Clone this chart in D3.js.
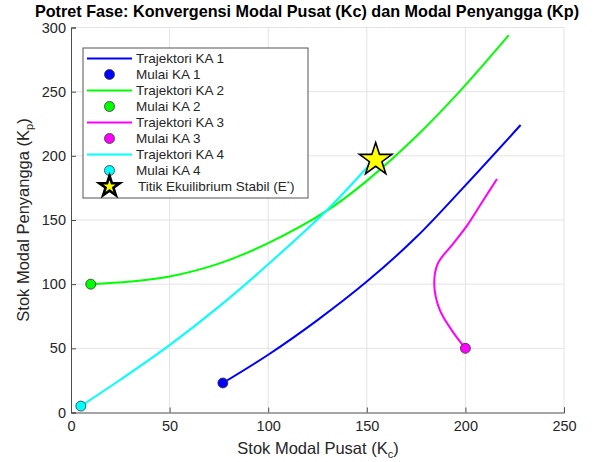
<!DOCTYPE html>
<html lang="en">
<head>
<meta charset="utf-8">
<script src="https://d3js.org/d3.v7.min.js"></script>
<style>
  body { margin: 0; background: #fff; }
  svg text { font-family: "Liberation Sans", Arial, sans-serif; fill: #262626; }
</style>
</head>
<body>
<svg width="614" height="462"></svg>
<script>

// trajectories (Kc, Kp)
var ka1X = [77, 100, 125, 150, 175, 200, 228];
var ka1Y = [23, 45, 72, 102, 136.5, 177, 224];

var ka2X = [10, 30, 50, 75, 100, 130, 150, 175, 197, 222];
var ka2Y = [100, 102, 106, 116, 132, 157.5, 180.5, 215, 250, 294];

var ka3X = [200, 194, 187, 184.2, 186, 193.5, 201, 208.5, 216];
var ka3Y = [50, 62, 80, 100, 116, 131, 146, 164, 182];

var ka4X = [5, 25, 50, 75, 100, 130, 151];
var ka4Y = [5, 25.5, 52.5, 82.5, 115.5, 158, 192.5];

var eqPoint = [154.5, 197];

var xTicks = [0, 50, 100, 150, 200, 250];
var yTicks = [0, 50, 100, 150, 200, 250, 300];

var seriesNames = ["KA 1", "KA 2", "KA 3", "KA 4"];
var seriesColors = ["#0000ff", "#00ff00", "#ff00ff", "#00ffff"];

var svg = d3.select("svg");

var x = d3.scaleLinear().domain([0, 250]).range([71, 564]);
var y = d3.scaleLinear().domain([0, 300]).range([412.5, 27.5]);

var series = [
    { x: ka1X, y: ka1Y },
    { x: ka2X, y: ka2Y },
    { x: ka3X, y: ka3Y },
    { x: ka4X, y: ka4Y }
].map(function(s, i) {
    return {
        name: seriesNames[i],
        color: seriesColors[i],
        pts: s.x.map(function(v, j) { return [v, s.y[j]]; })
    };
});

// grid
svg.append("g").selectAll("line").data(xTicks.slice(1)).enter().append("line")
    .attr("x1", function(d) { return x(d); }).attr("x2", function(d) { return x(d); })
    .attr("y1", y(0)).attr("y2", y(300))
    .attr("stroke", "#e3e3e3").attr("stroke-width", 1);
svg.append("g").selectAll("line").data(yTicks.slice(1)).enter().append("line")
    .attr("y1", function(d) { return y(d); }).attr("y2", function(d) { return y(d); })
    .attr("x1", x(0)).attr("x2", x(250))
    .attr("stroke", "#e3e3e3").attr("stroke-width", 1);

// axes, ticks pointing inward like matlab
var xAxis = svg.append("g").attr("transform", "translate(0," + y(0) + ")")
    .call(d3.axisTop(x).tickValues(xTicks).tickSize(5).tickFormat(d3.format("d")));
xAxis.selectAll("text").attr("y", 8).attr("dy", "0.71em").style("font-size", "14.5px");
var yAxis = svg.append("g").attr("transform", "translate(" + x(0) + ",0)")
    .call(d3.axisRight(y).tickValues(yTicks).tickSize(5).tickFormat(d3.format("d")));
yAxis.selectAll("text").attr("x", -5).attr("text-anchor", "end").style("font-size", "14.5px");
svg.selectAll(".domain").attr("stroke", "#4d4d4d");
svg.selectAll(".tick line").attr("stroke", "#4d4d4d");

// trajectories
var line = d3.line()
    .x(function(d) { return x(d[0]); })
    .y(function(d) { return y(d[1]); })
    .curve(d3.curveCatmullRom.alpha(0.5));

svg.append("g").selectAll("path").data(series).enter().append("path")
    .attr("d", function(d) { return line(d.pts); })
    .attr("fill", "none")
    .attr("stroke", function(d) { return d.color; })
    .attr("stroke-width", 2);

svg.append("g").selectAll("circle").data(series).enter().append("circle")
    .attr("cx", function(d) { return x(d.pts[0][0]); })
    .attr("cy", function(d) { return y(d.pts[0][1]); })
    .attr("r", 5)
    .attr("fill", function(d) { return d.color; })
    .attr("stroke", "#333")
    .attr("stroke-width", 0.8);

var star = d3.symbol().type(d3.symbolStar);
svg.append("path")
    .attr("d", star.size(330)())
    .attr("transform", "translate(" + x(eqPoint[0]) + "," + y(eqPoint[1]) + ")")
    .attr("fill", "#ffff00").attr("stroke", "#000").attr("stroke-width", 1.6);

// title and labels
svg.append("text").attr("x", 307).attr("y", 17).attr("text-anchor", "middle")
    .style("font-size", "16.2px").style("font-weight", "bold").style("fill", "#000")
    .text("Potret Fase: Konvergensi Modal Pusat (Kc) dan Modal Penyangga (Kp)");

var xl = svg.append("text").attr("x", 318).attr("y", 454).attr("text-anchor", "middle")
    .style("font-size", "16.5px");
xl.append("tspan").text("Stok Modal Pusat (K");
xl.append("tspan").attr("dy", 4).style("font-size", "11px").text("c");
xl.append("tspan").attr("dy", -4).text(")");

var yl = svg.append("text").attr("transform", "translate(29,220) rotate(-90)")
    .attr("text-anchor", "middle").style("font-size", "16.5px");
yl.append("tspan").text("Stok Modal Penyangga (K");
yl.append("tspan").attr("dy", 4).style("font-size", "11px").text("p");
yl.append("tspan").attr("dy", -4).text(")");

// legend
var lg = svg.append("g");
lg.append("rect").attr("x", 83).attr("y", 48).attr("width", 225).attr("height", 150)
    .attr("fill", "#fff").attr("stroke", "#555").attr("stroke-width", 1);

var rowY = d3.scaleLinear().domain([0, 8]).range([58.5, 186.5]);
var items = [];
series.forEach(function(s) {
    items.push({ kind: "line", color: s.color, label: "Trajektori " + s.name });
    items.push({ kind: "dot", color: s.color, label: "Mulai " + s.name });
});
items.push({ kind: "star", label: "Titik Ekuilibrium Stabil (E" });

var rows = lg.selectAll("g.row").data(items).enter().append("g")
    .attr("transform", function(d, i) { return "translate(0," + rowY(i) + ")"; });

rows.filter(function(d) { return d.kind === "line"; }).append("line")
    .attr("x1", 87).attr("x2", 132).attr("y1", 0).attr("y2", 0)
    .attr("stroke", function(d) { return d.color; }).attr("stroke-width", 2);
rows.filter(function(d) { return d.kind === "dot"; }).append("circle")
    .attr("cx", 109.5).attr("cy", 0).attr("r", 5)
    .attr("fill", function(d) { return d.color; }).attr("stroke", "#333").attr("stroke-width", 0.8);
rows.filter(function(d) { return d.kind === "star"; }).append("path")
    .attr("d", star.size(130)())
    .attr("transform", "translate(109.5,0)")
    .attr("fill", "#ffff00").attr("stroke", "#000").attr("stroke-width", 2.6);

var lt = rows.append("text")
    .attr("x", function(d) { return d.kind === "star" ? 138 : 136; })
    .attr("y", 0).attr("dy", "0.35em")
    .style("font-size", "13.5px")
    .text(function(d) { return d.label; });
lt.filter(function(d) { return d.kind === "star"; })
    .append("tspan").attr("dy", -5).style("font-size", "8px").text("*");
lt.filter(function(d) { return d.kind === "star"; })
    .append("tspan").attr("dy", 5).text(")");

</script>
</body>
</html>
